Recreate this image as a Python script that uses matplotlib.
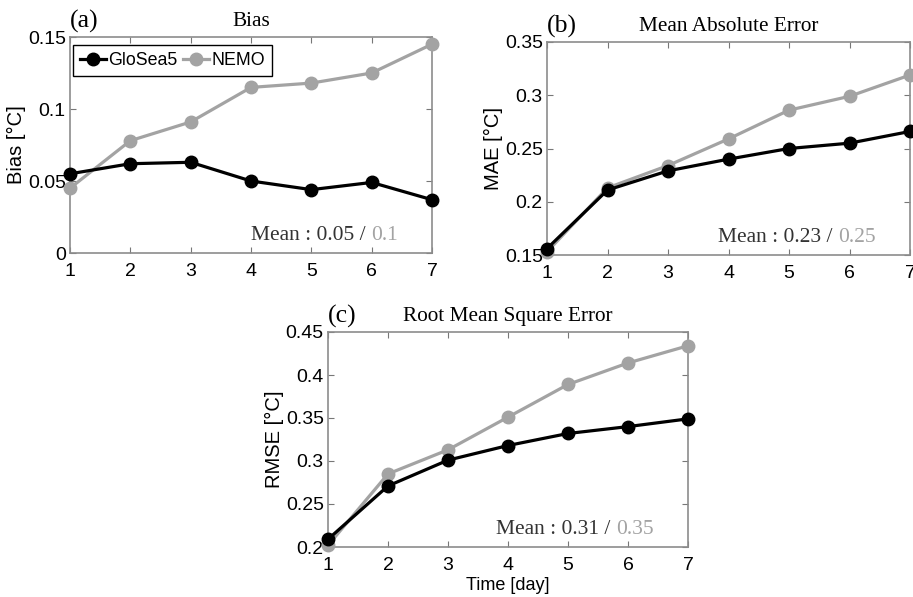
import matplotlib
matplotlib.use("Agg")
import matplotlib.pyplot as plt
from matplotlib.ticker import FormatStrFormatter

days = [1, 2, 3, 4, 5, 6, 7]

bias_glosea = [0.055, 0.062, 0.063, 0.050, 0.044, 0.049, 0.037]
bias_nemo = [0.045, 0.078, 0.091, 0.115, 0.118, 0.125, 0.145]

mae_glosea = [0.156, 0.211, 0.229, 0.240, 0.250, 0.255, 0.266]
mae_nemo = [0.153, 0.213, 0.234, 0.259, 0.286, 0.299, 0.319]

rmse_glosea = [0.209, 0.271, 0.301, 0.318, 0.332, 0.340, 0.349]
rmse_nemo = [0.202, 0.285, 0.313, 0.351, 0.389, 0.414, 0.434]

means = {"a": ("0.05", "0.1"), "b": ("0.23", "0.25"), "c": ("0.31", "0.35")}

BLACK = "#000000"
GRAY = "#a3a3a3"
SANS = "Liberation Sans"
SERIF = "Liberation Serif"

W, H = 913, 597
fig = plt.figure(figsize=(W / 100, H / 100), dpi=100)


def box(l, t, r, b):
    return [l / W, 1 - b / H, (r - l) / W, (b - t) / H]


def panel(rect, gl, nm, ylim, step, ylabel, title, tag, mean_key, xlabel=None, legend=False):
    ax = fig.add_axes(rect)
    kw = dict(marker="o", markersize=9, linewidth=2.3, clip_on=False)
    ax.plot(days, nm, color=GRAY, label="NEMO", zorder=3, **kw)
    ax.plot(days, gl, color=BLACK, label="GloSea5", zorder=4, **kw)
    ax.set_xlim(1, 7)
    ax.set_ylim(*ylim)
    ax.set_xticks(days)
    n = round((ylim[1] - ylim[0]) / step)
    ax.set_yticks([ylim[0] + i * step for i in range(n + 1)])
    ax.yaxis.set_major_formatter(FormatStrFormatter("%g"))
    ax.tick_params(direction="in", top=True, right=True, length=4, width=0.8,
                   color="#777777", labelsize=14)
    ax.tick_params(axis="x", pad=7)
    ax.tick_params(axis="y", pad=3)
    for lab in ax.get_xticklabels() + ax.get_yticklabels():
        lab.set_fontfamily(SANS)
    for s in ax.spines.values():
        s.set_color("#8c8c8c")
        s.set_linewidth(1.2)
    ax.set_ylabel(ylabel, fontsize=14.5, family=SANS, labelpad=1)
    if xlabel:
        ax.set_xlabel(xlabel, fontsize=13, family=SANS, labelpad=2)
    ax.set_title(title, fontsize=15.3, family=SERIF, pad=8)
    ax.text(0.0, 1.02, tag, transform=ax.transAxes, fontsize=18.5, family=SERIF,
            ha="left", va="bottom")
    v1, v2 = means[mean_key]
    t2 = ax.text(0.905, 0.06, v2, transform=ax.transAxes, fontsize=15.5, family=SERIF,
                 color=GRAY, ha="right", va="baseline")
    ax.annotate("Mean : " + v1 + " / ", xy=(0, 0), xycoords=t2, fontsize=15.5,
                family=SERIF, color="#333333", ha="right", va="bottom")
    if legend:
        h, l = ax.get_legend_handles_labels()
        leg = ax.legend(h[::-1], l[::-1], loc="upper left", ncol=2,
                        bbox_to_anchor=(3 / 362, 1 - 8 / 216),
                        prop={"family": SANS, "size": 12.8}, handlelength=1.5,
                        handletextpad=0.1, columnspacing=0.3, borderpad=0.38,
                        borderaxespad=0, fancybox=False, framealpha=1,
                        edgecolor="black")
        leg.get_frame().set_linewidth(1.0)
    return ax


panel(box(70, 37, 432, 253), bias_glosea, bias_nemo, (0, 0.15), 0.05,
      "Bias [\u00b0C]", "Bias", "(a)", "a", legend=True)
panel(box(547, 42, 910, 255), mae_glosea, mae_nemo, (0.15, 0.35), 0.05,
      "MAE [\u00b0C]", "Mean Absolute Error", "(b)", "b")
panel(box(328, 332, 688, 547), rmse_glosea, rmse_nemo, (0.2, 0.45), 0.05,
      "RMSE [\u00b0C]", "Root Mean Square Error", "(c)", "c", xlabel="Time [day]")

fig.savefig("out.png", dpi=100)
